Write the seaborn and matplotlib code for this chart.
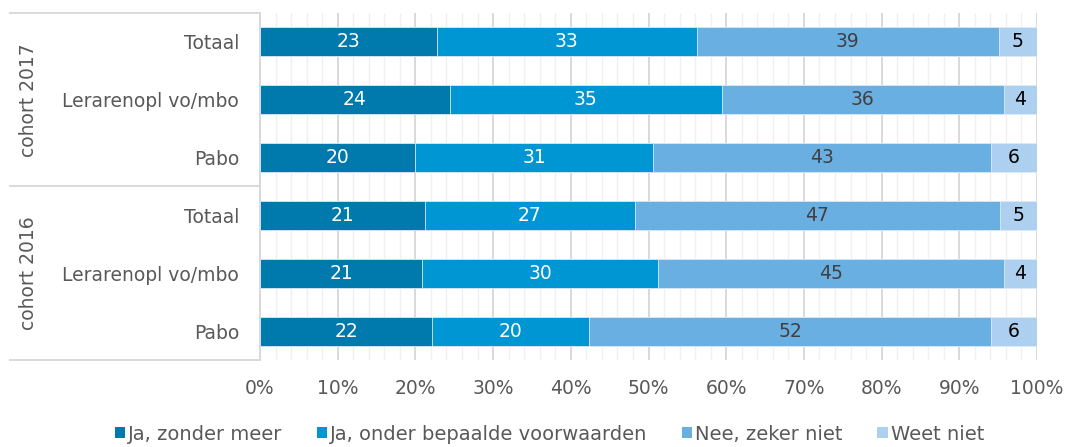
import numpy as np
import pandas as pd
import seaborn as sns
import matplotlib.pyplot as plt
from matplotlib.patches import Patch
from matplotlib.ticker import MultipleLocator, PercentFormatter

# data
rows = ["Totaal", "Lerarenopl vo/mbo", "Pabo", "Totaal ", "Lerarenopl vo/mbo ", "Pabo "]
cohorts = ["cohort 2017", "cohort 2016"]
series = ["Ja, zonder meer", "Ja, onder bepaalde voorwaarden", "Nee, zeker niet", "Weet niet"]
ja_zonder = [22.8, 24.4, 20.0, 21.2, 20.9, 22.2]
ja_onder = [33.4, 35.0, 30.6, 27.0, 30.3, 20.2]
nee = [38.9, 36.3, 43.5, 47.0, 44.5, 51.7]
weet_niet = [4.9, 4.3, 5.9, 4.8, 4.3, 5.9]
labels_zonder = [23, 24, 20, 21, 21, 22]
labels_onder = [33, 35, 31, 27, 30, 20]
labels_nee = [39, 36, 43, 47, 45, 52]
labels_weet = [5, 4, 6, 5, 4, 6]

colors = ["#0079AC", "#0096D3", "#6AAFE2", "#ADCFF0"]
label_colors = ["white", "white", "#404040", "black"]

plt.rcParams['font.family'] = ['DejaVu Sans']
fig = plt.figure(figsize=(10.67, 4.47), dpi=100)
ax = fig.add_axes([260 / 1067, 1 - 360 / 447, 777 / 1067, 347 / 447])

df = pd.DataFrame({"row": rows, "s0": ja_zonder, "s1": ja_onder, "s2": nee, "s3": weet_niet})
vals = df[["s0", "s1", "s2", "s3"]].to_numpy()
cum = vals.cumsum(axis=1)
# stacked bars: draw cumulative totals back to front
for k in range(3, -1, -1):
    sns.barplot(x=cum[:, k], y=rows, order=rows, orient="h", color=colors[k], width=0.5,
                edgecolor="#DDEBF7", linewidth=0.6, ax=ax, zorder=3, saturation=1)

all_labels = [labels_zonder, labels_onder, labels_nee, labels_weet]
for k in range(4):
    for i in range(len(rows)):
        ax.text(cum[i, k] - vals[i, k] / 2, i, str(all_labels[k][i]), ha="center", va="center",
                fontsize=13.5, color=label_colors[k], zorder=4)

ax.set_xlim(0, 100)
ax.set_ylim(5.5, -0.5)
ax.xaxis.set_major_locator(MultipleLocator(10))
ax.xaxis.set_minor_locator(MultipleLocator(2))
ax.xaxis.set_major_formatter(PercentFormatter(decimals=0))
ax.grid(axis="x", which="major", color="#D9D9D9", linewidth=1.4, zorder=0)
ax.grid(axis="x", which="minor", color="#F0F0F0", linewidth=1.0, zorder=0)
ax.set_axisbelow(True)
ax.tick_params(axis="both", which="both", length=0)
ax.tick_params(axis="x", labelsize=13.5, labelcolor="#595959", pad=14)
ax.tick_params(axis="y", labelsize=13.5, labelcolor="#595959", pad=15)
ax.set_yticks(range(len(rows)))
ax.set_yticklabels([r.strip() for r in rows])
ax.set_xlabel("")
ax.set_ylabel("")
for s in ["top", "right", "bottom"]:
    ax.spines[s].set_visible(False)
ax.spines["left"].set_color("#D9D9D9")
ax.spines["left"].set_linewidth(1.4)

# group separators and cohort labels
tr = ax.get_yaxis_transform()
x0 = (10 - 260) / 777
for yv in [-0.5, 2.5, 5.5]:
    ax.plot([x0, 0], [yv, yv], transform=tr, color="#D9D9D9", lw=1.4, clip_on=False)
for j, c in enumerate(cohorts):
    ax.text((28 - 260) / 777, 1 + 3 * j, c, transform=tr, rotation=90, ha="center", va="center",
            fontsize=13.5, color="#595959")

handles = [Patch(facecolor=colors[k], edgecolor="none") for k in range(4)]
fig.legend(handles, series, loc="center left", bbox_to_anchor=(107 / 1067, 1 - 434 / 447),
           ncol=4, frameon=False, fontsize=14, labelcolor="#595959", handlelength=0.55,
           handleheight=0.55, handletextpad=0.15, columnspacing=1.75, borderaxespad=0)

fig.savefig("out.png", dpi=100)
